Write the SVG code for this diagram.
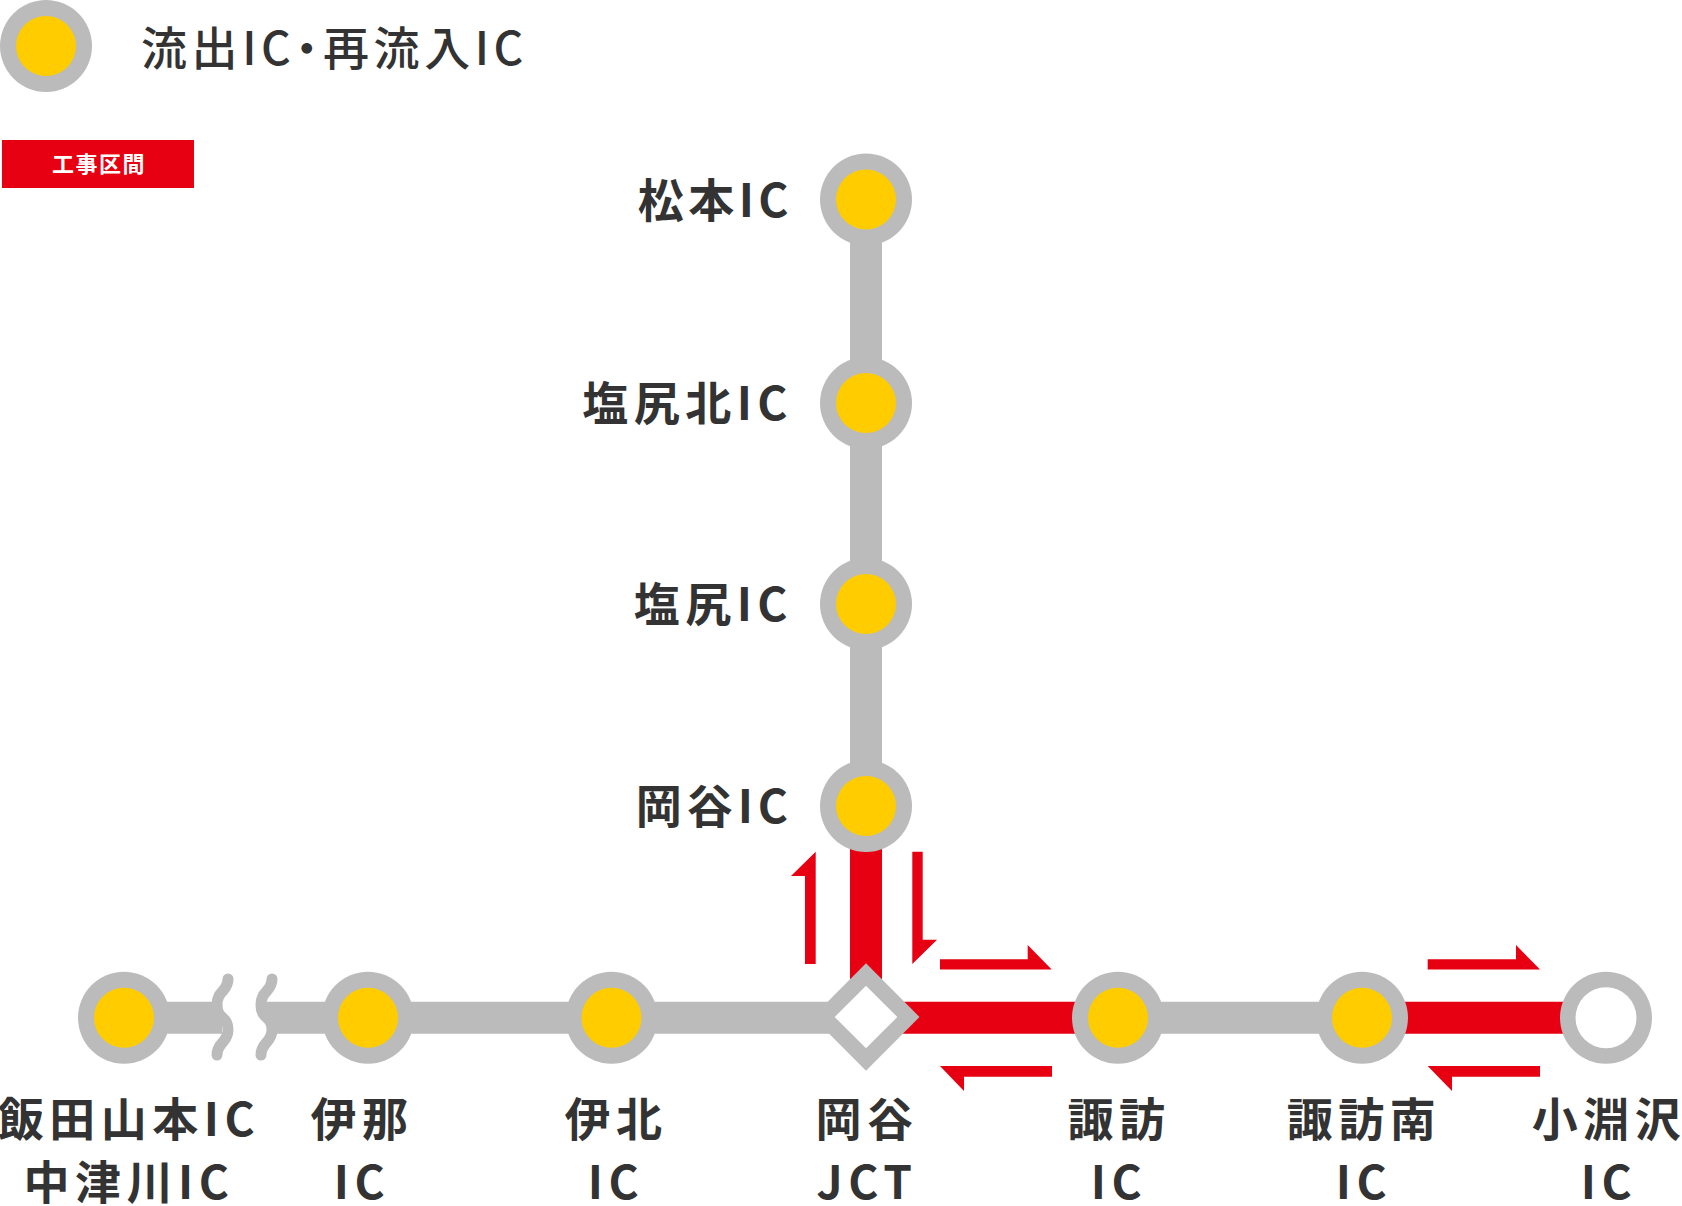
<svg xmlns="http://www.w3.org/2000/svg" width="1682" height="1206" viewBox="0 0 1682 1206">
<style>
.g{stroke:#bbb;stroke-width:32;fill:none}
.r{stroke:#e60012;stroke-width:32;fill:none}
.o{fill:#bbb}
.y{fill:#fc0}
.w{fill:#fff}
.a{fill:#e60012}
.br{stroke:#bbb;stroke-width:11;stroke-linecap:round;fill:none}
text{font-family:"Noto Sans CJK JP","Noto Sans",sans-serif;fill:#333}
.l{font-size:46px;font-weight:700;letter-spacing:5.500px;font-feature-settings:"palt"}
.m{text-anchor:middle}
.e{text-anchor:end}
.t{font-size:46px;font-weight:500;letter-spacing:4.600px;font-feature-settings:"palt"}
.b{font-size:22px;font-weight:700;fill:#fff;text-anchor:middle;letter-spacing:1.500px}
</style>
<g id="connectors">
<path class="g" d="M866 199V806"/>
<path class="r" d="M866 806V1017"/>
<path class="g" d="M124 1017.800H222"/>
<path class="g" d="M266 1017.800H866"/>
<path class="r" d="M866 1017.800H1118"/>
<path class="g" d="M1118 1017.800H1362"/>
<path class="r" d="M1362 1017.800H1606"/>
<path class="w" d="M228 975C236 990 217 990 217 1005C217 1020 236 1015 228 1030L228 1060H256L272 1060L272 1030C272 1015 261 1020 261 1005C261 990 272 992 272 975Z"/>
<path class="br" d="M228 979C228 992 217 990 217 1005C217 1020 228 1015 228 1030C228 1043 217 1042 217 1055"/>
<path class="br" d="M272 979C272 992 261 990 261 1005C261 1020 272 1015 272 1030C272 1043 261 1042 261 1055"/>
<path class="a" d="M815.700 851.700V964H805V876H791Z"/>
<path class="a" d="M912.300 851.700H922.700V939.700H937L912.300 964Z"/>
<path class="a" d="M940 959.300H1027.700V945L1051.700 969.500H940Z"/>
<path class="a" d="M940 1066H1052V1076.700H964V1091Z"/>
<path class="a" d="M1427.700 959.300H1516V945L1540 969.500H1427.700Z"/>
<path class="a" d="M1427.700 1066H1540V1076.700H1452V1091Z"/>
</g>
<g id="legend-ic">
<circle class="o" cx="46" cy="46" r="46"/><circle class="y" cx="46" cy="46" r="30"/>
<text class="t" x="141" y="65">流出IC・再流入IC</text>
</g>
<g id="legend-works">
<rect class="a" x="2" y="140" width="192" height="48"/>
<text class="b" x="99" y="172">工事区間</text>
</g>
<g id="n-matsumoto"><circle class="o" cx="866" cy="199.500" r="46"/><circle class="y" cx="866" cy="199.500" r="30"/><text class="l e" x="793" y="217" style="letter-spacing:4.500px">松本IC</text></g>
<g id="n-shiojirikita"><circle class="o" cx="866" cy="403" r="46"/><circle class="y" cx="866" cy="403" r="30"/><text class="l e" x="793" y="420">塩尻北IC</text></g>
<g id="n-shiojiri"><circle class="o" cx="866" cy="604" r="46"/><circle class="y" cx="866" cy="604" r="30"/><text class="l e" x="793" y="621">塩尻IC</text></g>
<g id="n-okaya"><circle class="o" cx="866" cy="806" r="46"/><circle class="y" cx="866" cy="806" r="30"/><text class="l e" x="793" y="823" style="letter-spacing:5px">岡谷IC</text></g>
<g id="n-iida"><circle class="o" cx="124" cy="1017.800" r="46"/><circle class="y" cx="124" cy="1017.800" r="30"/><text class="l m" x="129" y="1136">飯田山本IC</text><text class="l m" x="129" y="1199">中津川IC</text></g>
<g id="n-ina"><circle class="o" cx="368" cy="1017.800" r="46"/><circle class="y" cx="368" cy="1017.800" r="30"/><text class="l m" x="362" y="1136">伊那</text><text class="l m" x="362" y="1199">IC</text></g>
<g id="n-ihoku"><circle class="o" cx="611.500" cy="1017.800" r="46"/><circle class="y" cx="611.500" cy="1017.800" r="30"/><text class="l m" x="616" y="1136">伊北</text><text class="l m" x="616" y="1199">IC</text></g>
<g id="n-okayajct"><path class="o" d="M866 963.300L919.500 1017L866 1070.700L812.500 1017Z"/><path class="w" d="M866 985.700L897.300 1017L866 1048.300L834.700 1017Z"/><text class="l m" x="867" y="1136">岡谷</text><text class="l m" x="867" y="1199">JCT</text></g>
<g id="n-suwa"><circle class="o" cx="1118" cy="1017.800" r="46"/><circle class="y" cx="1118" cy="1017.800" r="30"/><text class="l m" x="1119" y="1136">諏訪</text><text class="l m" x="1119" y="1199">IC</text></g>
<g id="n-suwaminami"><circle class="o" cx="1362" cy="1017.800" r="46"/><circle class="y" cx="1362" cy="1017.800" r="30"/><text class="l m" x="1364" y="1136">諏訪南</text><text class="l m" x="1364" y="1199">IC</text></g>
<g id="n-kobuchizawa"><circle class="o" cx="1606" cy="1017.800" r="46"/><circle class="w" cx="1606" cy="1017.800" r="30.500"/><text class="l m" x="1609" y="1136">小淵沢</text><text class="l m" x="1609" y="1199">IC</text></g>
</svg>
